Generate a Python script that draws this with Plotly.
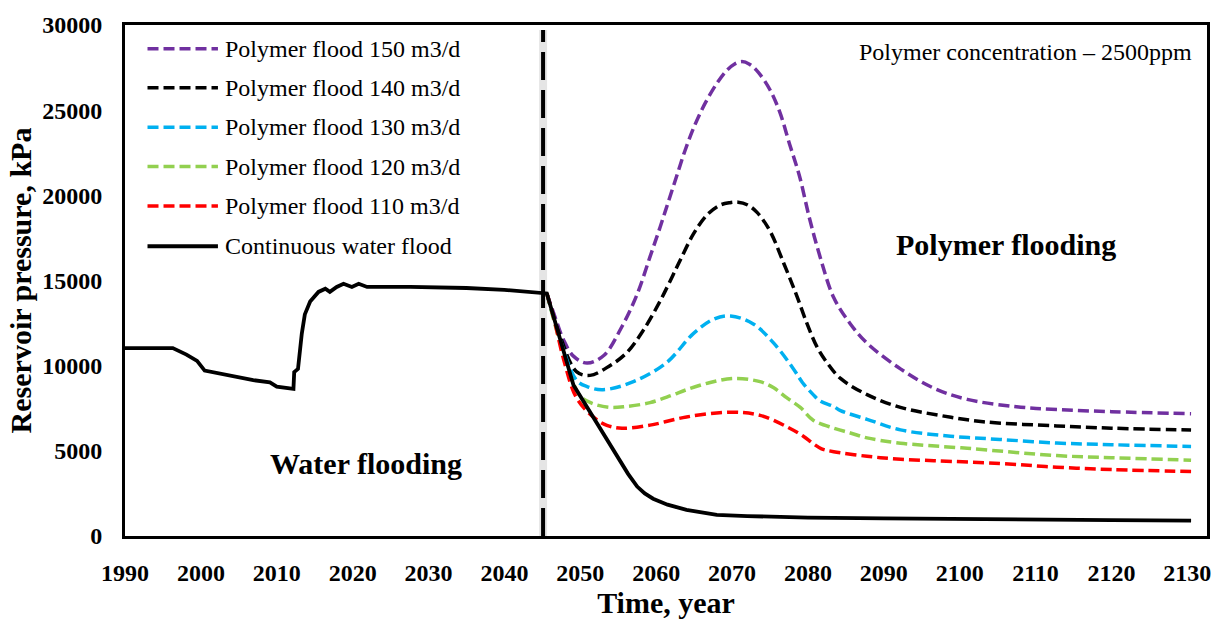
import plotly.graph_objects as go

# ---- data: reservoir pressure (kPa) versus time (year) ----
water_years = [1990, 1996.3, 1998.1, 1999.5, 2000.5, 2002.5, 2004.7, 2006.9, 2009.1, 2010.0,
               2012.2, 2012.3, 2012.8, 2013.3, 2013.7, 2014.4, 2015.5, 2016.4, 2017.0, 2017.9,
               2018.8, 2019.9, 2020.8, 2021.9, 2027.6, 2035.0, 2040.0, 2045.6, 2049.1, 2052.0,
               2055.0, 2056.3, 2057.5, 2058.5, 2059.6, 2061.5, 2064.0, 2066.0, 2068.0, 2072.0,
               2080.0, 2090.0, 2100.0, 2110.0, 2120.0, 2130.5]
water_kpa = [11030, 11030, 10650, 10280, 9710, 9530, 9340, 9150, 9020, 8770,
             8640, 9620, 9810, 11880, 13010, 13770, 14330, 14520, 14330, 14620,
             14810, 14620, 14810, 14620, 14620, 14560, 14450, 14240, 8870, 6750,
             4550, 3650, 2900, 2500, 2190, 1840, 1530, 1360, 1240, 1170,
             1080, 1030, 980, 950, 930, 900]

p150_years = [2045.6, 2046.8, 2047.8, 2049.1, 2050.9, 2053.1, 2055.5, 2057.5, 2059.2, 2060.5,
              2061.6, 2062.7, 2063.8, 2065.1, 2066.5, 2068.0, 2069.3, 2070.3, 2071.3, 2072.3,
              2073.5, 2075.0, 2076.3, 2077.6, 2078.9, 2080.2, 2081.6, 2083.4, 2085.6, 2087.8,
              2092.2, 2096.6, 2101.0, 2107.5, 2113.0, 2120.0, 2130.5]
p150_kpa = [14240, 12700, 11510, 10560, 10150, 10600, 12300, 14200, 16400, 18100,
            19610, 21120, 22620, 24130, 25440, 26570, 27330, 27700, 27850, 27700,
            27200, 26200, 24880, 22990, 21120, 18670, 16400, 14000, 12450, 11320,
            9810, 8680, 8020, 7590, 7420, 7300, 7180]

p140_years = [2045.6, 2047.3, 2049.5, 2051.3, 2053.9, 2056.1, 2058.3, 2060.5, 2062.2, 2063.2,
              2064.9, 2066.7, 2068.4, 2069.7, 2070.8, 2072.0, 2073.3, 2075.0, 2076.8, 2078.5,
              2079.9, 2081.2, 2082.5, 2084.3, 2087.8, 2092.2, 2097.4, 2103.1, 2112.8, 2120.0,
              2130.5]
p140_kpa = [14240, 11800, 9650, 9430, 10000, 10750, 12070, 13770, 15300, 16220,
            17720, 18850, 19420, 19570, 19600, 19450, 19000, 17910, 16030, 14140,
            12450, 11100, 10190, 9250, 8300, 7550, 7080, 6710, 6460, 6330,
            6220]

p130_years = [2045.6, 2047.3, 2049.5, 2050.9, 2053.0, 2057.0, 2061.4, 2064.9, 2067.6, 2069.8,
              2072.8, 2075.5, 2078.1, 2079.3, 2080.7, 2081.6, 2083.4, 2084.3, 2087.8, 2092.2,
              2098.8, 2105.3, 2112.8, 2120.0, 2130.5]
p130_kpa = [14240, 11600, 9150, 8770, 8590, 9060, 10190, 11880, 12730, 12920,
            12450, 11320, 9810, 9000, 8300, 7930, 7600, 7360, 6850, 6230,
            5860, 5670, 5460, 5360, 5260]

p120_years = [2045.6, 2047.3, 2048.8, 2050.0, 2051.5, 2053.9, 2056.0, 2059.2, 2062.0, 2064.0,
              2067.0, 2070.2, 2073.7, 2075.5, 2077.2, 2079.0, 2080.7, 2083.4, 2085.6, 2087.8,
              2092.2, 2101.0, 2112.8, 2120.0, 2130.5]
p120_kpa = [14240, 11400, 9300, 8210, 7800, 7550, 7600, 7830, 8250, 8590,
            9000, 9250, 9060, 8700, 8120, 7550, 6800, 6330, 6050, 5760,
            5450, 5150, 4720, 4600, 4450]

p110_years = [2045.6, 2046.5, 2047.8, 2049.5, 2051.7, 2053.5, 2055.5, 2059.2, 2064.0, 2069.8,
              2073.7, 2077.2, 2079.4, 2080.7, 2081.8, 2083.4, 2087.8, 2091.7, 2096.6, 2105.3,
              2112.8, 2120.0, 2130.5]
p110_kpa = [14240, 12820, 10380, 8120, 6990, 6500, 6330, 6510, 6990, 7270,
            7080, 6420, 5860, 5420, 5120, 4950, 4680, 4520, 4420, 4260,
            4040, 3900, 3790]

switch_year = 2045.1
x_ticks = list(range(1990, 2131, 10))
y_ticks = list(range(0, 30001, 5000))

series = [
    ("Polymer flood 150 m3/d", p150_years, p150_kpa, "#7030A0", "11px,5px"),
    ("Polymer flood 140 m3/d", p140_years, p140_kpa, "#000000", "11px,5px"),
    ("Polymer flood 130 m3/d", p130_years, p130_kpa, "#00B0F0", "11px,5px"),
    ("Polymer flood 120 m3/d", p120_years, p120_kpa, "#92D050", "11px,5px"),
    ("Polymer flood 110 m3/d", p110_years, p110_kpa, "#FF0000", "11px,5px"),
    ("Continuous water flood", water_years, water_kpa, "#000000", "solid"),
]

SERIF = "Liberation Serif, Times New Roman, serif"

fig = go.Figure()

# flooding switch marker (shadow + dashed line)
fig.add_shape(type="line", xref="x", yref="paper", x0=switch_year, x1=switch_year,
              y0=0, y1=0.99, line=dict(color="rgba(0,0,0,0.10)", width=8))
fig.add_shape(type="line", xref="x", yref="paper", x0=switch_year, x1=switch_year,
              y0=0, y1=0.99, line=dict(color="black", width=4, dash="28px,10px"))

for name, xs, ys, color, dash in series:
    if dash == "solid":
        line = dict(color=color, width=3.8, shape="linear")
    else:
        line = dict(color=color, width=3.5, dash=dash, shape="spline", smoothing=1.0)
    fig.add_trace(go.Scatter(x=xs, y=ys, mode="lines", name=name,
                             showlegend=False, line=line))

# hand-laid legend in the upper-left corner
leg_rows = [0.9535, 0.8770, 0.7997, 0.7230, 0.6457, 0.5672]
for (name, _, _, color, dash), yy in zip(series, leg_rows):
    fig.add_shape(type="line", xref="paper", yref="paper", x0=0.0208, x1=0.0859,
                  y0=yy, y1=yy,
                  line=dict(color=color, width=3.5 if dash != "solid" else 4, dash=dash))
    fig.add_annotation(xref="paper", yref="paper", x=0.0905, y=yy, text=name,
                       showarrow=False, xanchor="left", yanchor="middle",
                       font=dict(family=SERIF, size=24, color="black"))

fig.add_annotation(xref="paper", yref="paper", x=0.988, y=0.9472,
                   text="Polymer concentration \u2013 2500ppm", showarrow=False,
                   xanchor="right", yanchor="middle",
                   font=dict(family=SERIF, size=24, color="black"))
fig.add_annotation(xref="paper", yref="paper", x=0.8142, y=0.5704,
                   text="<b>Polymer flooding</b>", showarrow=False,
                   xanchor="center", yanchor="middle",
                   font=dict(family=SERIF, size=30, color="black"))
fig.add_annotation(xref="paper", yref="paper", x=0.2227, y=0.1426,
                   text="<b>Water flooding</b>", showarrow=False,
                   xanchor="center", yanchor="middle",
                   font=dict(family=SERIF, size=30, color="black"))

axis_common = dict(showgrid=False, zeroline=False, showline=True, mirror=True,
                   linecolor="black", linewidth=3, ticks="",
                   tickfont=dict(family=SERIF, size=24, color="black", weight="bold"))

fig.update_xaxes(range=[1990, 2132.6], tickvals=x_ticks, tickformat="d",
                 ticklabelstandoff=13,
                 title=dict(text="Time, year", standoff=2,
                            font=dict(family=SERIF, size=30, color="black", weight="bold")),
                 **axis_common)
fig.update_yaxes(range=[0, 30000], tickvals=y_ticks, tickformat="d",
                 ticklabelstandoff=15,
                 title=dict(text="Reservoir pressure, kPa", standoff=2,
                            font=dict(family=SERIF, size=30, color="black", weight="bold")),
                 **axis_common)

fig.update_layout(
    width=1225, height=621, autosize=False,
    margin=dict(l=125, r=18, t=17, b=74),
    paper_bgcolor="white", plot_bgcolor="white",
    font=dict(family=SERIF, color="black"),
)

fig.write_html("out.html")
